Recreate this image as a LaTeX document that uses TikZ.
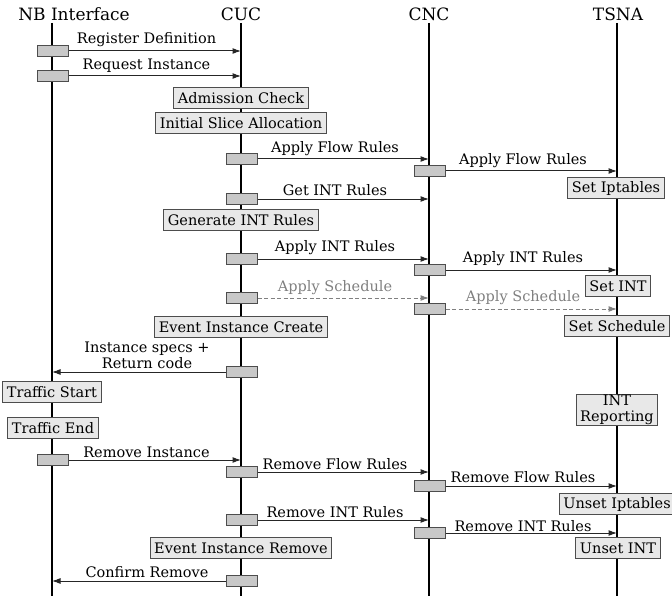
\documentclass[tikz,border=0pt]{standalone}
\usepackage{fontspec}
\setmainfont{DejaVu Serif}
\usetikzlibrary{arrows.meta}
\definecolor{barfill}{HTML}{C8C8C8}
\definecolor{boxfill}{HTML}{E8E8E8}
\definecolor{edgegray}{HTML}{4D4D4D}
\definecolor{dashgray}{HTML}{808080}
\newcommand\mybodyfont{\fontsize{14.5bp}{15.5bp}\selectfont}
\newcommand\myheadfont{\fontsize{17bp}{19bp}\selectfont}
\tikzset{
 life/.style={line width=2bp, black},
 bar/.style={draw=edgegray, fill=barfill, line width=1bp, minimum width=31bp, minimum height=11.5bp, inner sep=0pt},
 actbox/.style={draw=edgegray, fill=boxfill, line width=1bp, inner xsep=4bp, inner ysep=2bp, minimum height=21bp, font=\mybodyfont, align=center},
 msg/.style={line width=1bp, draw=black!85, -{Latex[length=8.5bp,width=6bp]}},
 dmsg/.style={msg, draw=dashgray, dash pattern=on 4bp off 2.5bp},
 lbl/.style={font=\mybodyfont, inner sep=0pt, align=center},
 dlbl/.style={lbl, text=dashgray},
 head/.style={font=\myheadfont, inner sep=0pt},
}
\begin{document}
\begin{tikzpicture}[x=1bp,y=-1bp]
\useasboundingbox (0,0) rectangle (672,601);
% lifelines
\coordinate (nbT) at (52,23);  \coordinate (nbB) at (52,596);
\coordinate (cucT) at (241,23); \coordinate (cucB) at (241,596);
\coordinate (cncT) at (429,23); \coordinate (cncB) at (429,596);
\coordinate (tsnT) at (617,23); \coordinate (tsnB) at (617,596);
\draw[life] (nbT) -- (nbB);
\draw[life] (cucT) -- (cucB);
\draw[life] (cncT) -- (cncB);
\draw[life] (tsnT) -- (tsnB);
% headers
\node[head] (hnb) at (74,14) {NB Interface};
\node[head] (hcuc) at (241,14) {CUC};
\node[head] (hcnc) at (429,14) {CNC};
\node[head] (htsn) at (618,14) {TSNA};
% 1
\node[bar] (m1) at (52.5,51) {};
\draw[msg] (m1.east) -- (m1.center -| cucT);
\node[lbl] (l1) at (146.5,40) {Register Definition};
% 2
\node[bar] (m2) at (52.5,76) {};
\draw[msg] (m2.east) -- (m2.center -| cucT);
\node[lbl] (l2) at (146.5,66) {Request Instance};
% boxes
\node[actbox] (ac) at (241,98) {Admission Check};
\node[actbox] (isa) at (241,123) {Initial Slice Allocation};
% 3
\node[bar] (m3) at (241.5,159) {};
\draw[msg] (m3.east) -- (m3.center -| cncT);
\node[lbl] (l3) at (335,149) {Apply Flow Rules};
% 4
\node[bar] (m4) at (429.5,171) {};
\draw[msg] (m4.east) -- (m4.center -| tsnT);
\node[lbl] (l4) at (523,161) {Apply Flow Rules};
\node[actbox] (sip) at (616,188) {Set Iptables};
% 5
\node[bar] (m5) at (241.5,199) {};
\draw[msg] (m5.east) -- (m5.center -| cncT);
\node[lbl] (l5) at (335,190) {Get INT Rules};
\node[actbox] (gir) at (241,220) {Generate INT Rules};
% 6
\node[bar] (m6) at (241.5,259) {};
\draw[msg] (m6.east) -- (m6.center -| cncT);
\node[lbl] (l6) at (335,248) {Apply INT Rules};
% 7
\node[bar] (m7) at (429.5,270) {};
\draw[msg] (m7.east) -- (m7.center -| tsnT);
\node[lbl] (l7) at (523,259) {Apply INT Rules};
\node[actbox] (sint) at (618,286) {Set INT};
% 8
\node[bar] (m8) at (241.5,298) {};
\draw[dmsg] (m8.east) -- (m8.center -| cncT);
\node[dlbl] (l8) at (335,288) {Apply Schedule};
% 9
\node[bar] (m9) at (429.5,309) {};
\draw[dmsg] (m9.east) -- (m9.center -| tsnT);
\node[dlbl] (l9) at (523,298) {Apply Schedule};
\node[actbox] (ssch) at (617,326) {Set Schedule};
\node[actbox] (eic) at (241,327) {Event Instance Create};
% 10
\node[bar] (m10) at (241.5,372) {};
\draw[msg] (m10.west) -- (m10.center -| nbT);
\node[lbl] (l10) at (147,355.5) {Instance specs +\\Return code};
\node[actbox] (ts) at (52,392) {Traffic Start};
\node[actbox] (te) at (53,428) {Traffic End};
\node[actbox, inner ysep=1bp] (intr) at (617,410) {INT\\Reporting};
% 11
\node[bar] (m11) at (52.5,460) {};
\draw[msg] (m11.east) -- (m11.center -| cucT);
\node[lbl] (l11) at (146.5,452) {Remove Instance};
% 12
\node[bar] (m12) at (241.5,472) {};
\draw[msg] (m12.east) -- (m12.center -| cncT);
\node[lbl] (l12) at (335,464) {Remove Flow Rules};
% 13
\node[bar] (m13) at (429.5,486) {};
\draw[msg] (m13.east) -- (m13.center -| tsnT);
\node[lbl] (l13) at (523,477) {Remove Flow Rules};
\node[actbox] (uip) at (617,504) {Unset Iptables};
% 14
\node[bar] (m14) at (241.5,520) {};
\draw[msg] (m14.east) -- (m14.center -| cncT);
\node[lbl] (l14) at (335,512) {Remove INT Rules};
% 15
\node[bar] (m15) at (429.5,533) {};
\draw[msg] (m15.east) -- (m15.center -| tsnT);
\node[lbl] (l15) at (523,526) {Remove INT Rules};
\node[actbox] (uint) at (618,548) {Unset INT};
\node[actbox] (eir) at (241,548) {Event Instance Remove};
% 16
\node[bar] (m16) at (241.5,581) {};
\draw[msg] (m16.west) -- (m16.center -| nbT);
\node[lbl] (l16) at (147,572) {Confirm Remove};
\end{tikzpicture}
\end{document}
